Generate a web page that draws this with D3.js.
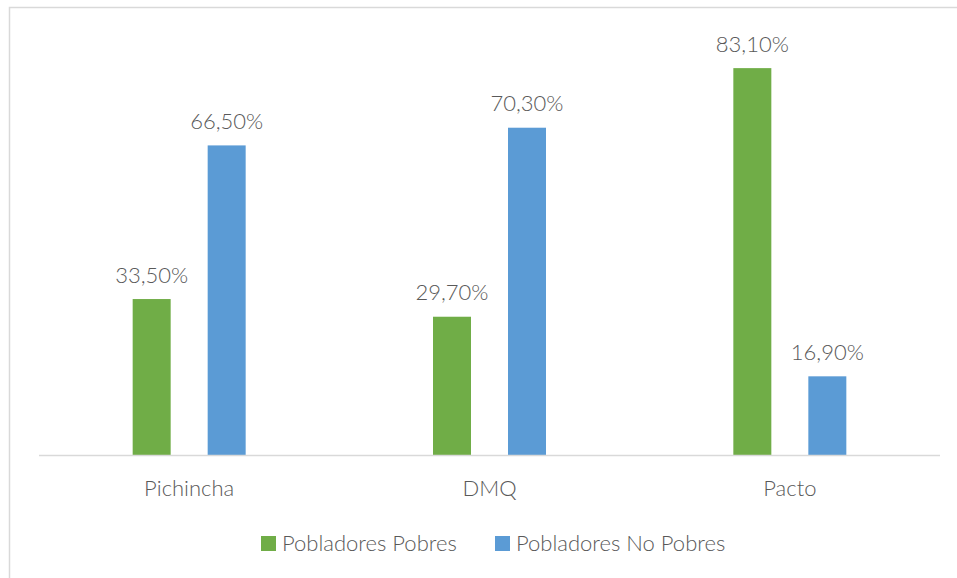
<!DOCTYPE html>
<html>
<head>
<meta charset="utf-8">
<script src="https://cdn.jsdelivr.net/npm/d3@7"></script>
<style>
  html, body { margin: 0; padding: 0; background: #fff; }
  svg { display: block; }
  text { font-family: Lato, "Open Sans", sans-serif; font-weight: 300; fill: #595959; }
</style>
</head>
<body>
<svg id="chart" width="957" height="578"></svg>
<script>
const categories = ["Pichincha", "DMQ", "Pacto"];
const seriesNames = ["Pobladores Pobres", "Pobladores No Pobres"];
const pobres = [33.5, 29.7, 83.1];
const noPobres = [66.5, 70.3, 16.9];
const seriesColors = ["#70AD47", "#5B9BD5"];

const svg = d3.select("#chart");
const W = 957, H = 578;
const FS = "22px";

// outer chart border (cropped at right and bottom)
svg.append("path")
  .attr("d", `M9.5,${H} V7.5 H${W}`)
  .attr("fill", "none").attr("stroke", "#D9D9D9").attr("stroke-width", 1.5);

const plot = { left: 39, right: 940, top: 36, bottom: 455 };

const x = d3.scaleBand().domain(categories).range([plot.left, plot.right]).paddingInner(0).paddingOuter(0);
const y = d3.scaleLinear().domain([0, 90]).range([plot.bottom, plot.top]);
const x1 = d3.scaleBand().domain(seriesNames)
  .range([x.bandwidth()/2 - 56.5, x.bandwidth()/2 + 56.5])
  .paddingInner(37/75).paddingOuter(0);

const data = categories.map((c, i) => ({ cat: c, vals: [pobres[i], noPobres[i]] }));

const groups = svg.append("g").selectAll("g").data(data).join("g")
  .attr("transform", d => `translate(${x(d.cat)},0)`);

groups.selectAll("rect").data(d => d.vals.map((v, j) => ({ v, s: seriesNames[j], j })))
  .join("rect")
  .attr("x", d => x1(d.s))
  .attr("width", x1.bandwidth())
  .attr("y", d => y(d.v))
  .attr("height", d => y(0) - y(d.v))
  .attr("fill", d => seriesColors[d.j]);

groups.selectAll("text.val").data(d => d.vals.map((v, j) => ({ v, s: seriesNames[j], j })))
  .join("text")
  .attr("class", "val")
  .attr("x", d => x1(d.s) + x1.bandwidth()/2)
  .attr("y", d => y(d.v) - 16.5)
  .attr("text-anchor", "middle")
  .style("font-size", FS)
  .text(d => d.v.toFixed(2).replace(".", ",") + "%");

// x axis
const xAxis = svg.append("g").attr("transform", `translate(0,${plot.bottom})`)
  .call(d3.axisBottom(x).tickSize(0).tickPadding(0));
xAxis.select(".domain").attr("stroke", "#D9D9D9").attr("stroke-width", 1.5).attr("d", `M${plot.left},0.5H${plot.right}`);
xAxis.selectAll("text")
  .attr("dy", null).attr("y", 41)
  .style("font-size", FS).style("font-family", "Lato, 'Open Sans', sans-serif").style("font-weight", 300).attr("fill", "#595959");

// legend
const legendX = [261, 495];
const lg = svg.append("g").selectAll("g").data(seriesNames).join("g")
  .attr("transform", (d, i) => `translate(${legendX[i]},536)`);
lg.append("rect").attr("width", 15).attr("height", 15).attr("fill", (d, i) => seriesColors[i]);
lg.append("text").attr("x", 21).attr("y", 15).style("font-size", FS).text(d => d);
</script>
</body>
</html>
